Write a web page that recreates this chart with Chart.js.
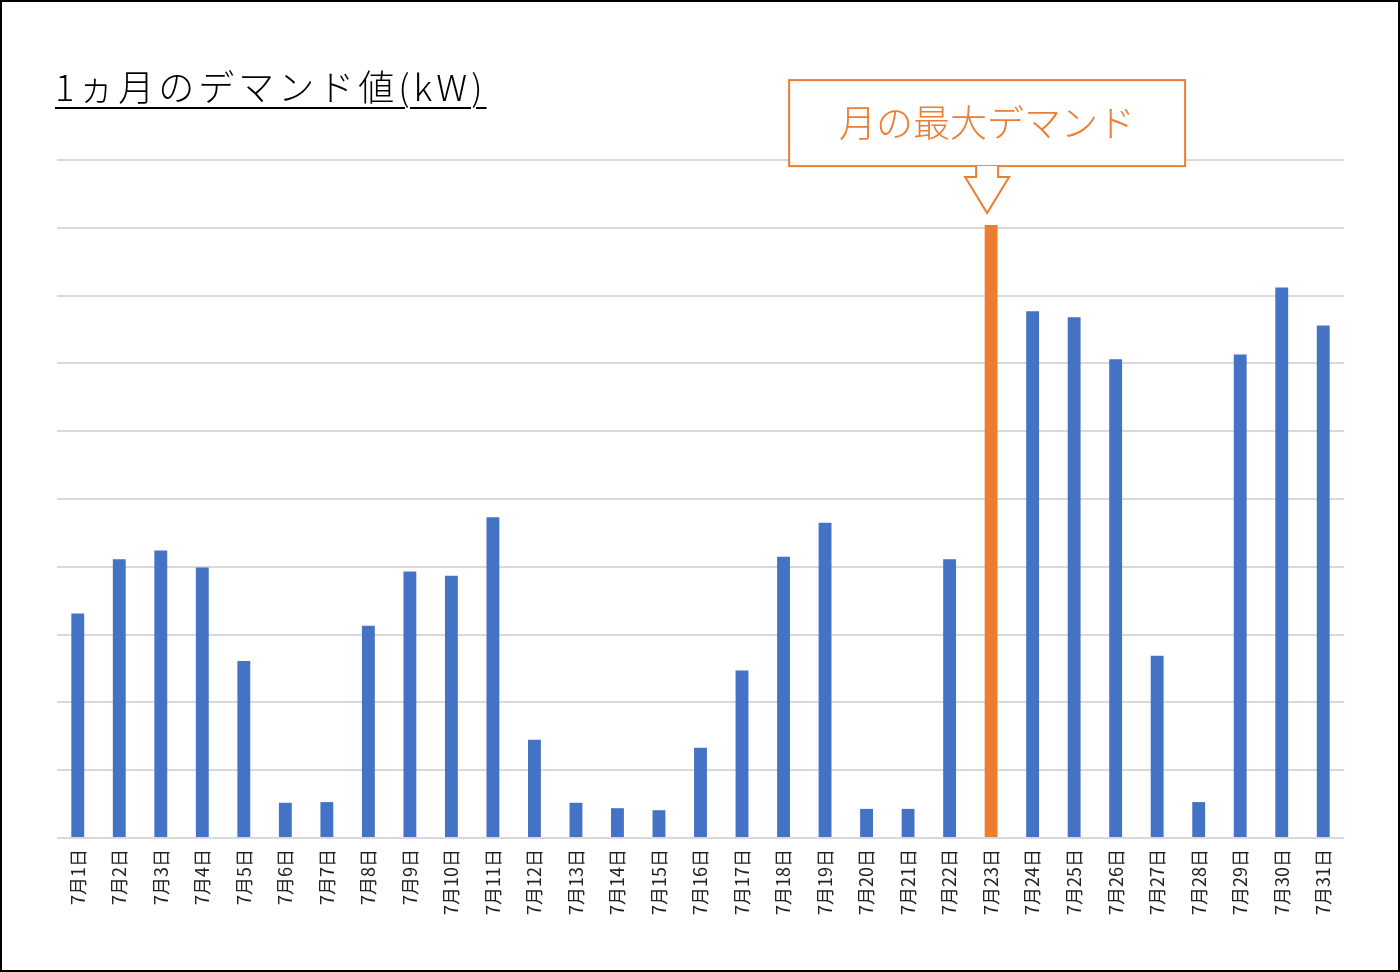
<!DOCTYPE html>
<html lang="ja">
<head>
    <meta charset="UTF-8">
    <title>1ヵ月のデマンド値</title>
    <style>
        body { margin: 0; background: #fff; }
        #wrap { position: relative; width: 1400px; height: 972px; }
        #frame { position: absolute; left: 0; top: 0; width: 1400px; height: 972px; box-sizing: border-box; border: 2px solid #000; pointer-events: none; }
        #title { position: absolute; left: 55px; top: 63px; font-family: "Noto Sans CJK JP", sans-serif; font-weight: 300; font-size: 36px; line-height: 44px; letter-spacing: 4px; color: #000; text-decoration: underline; text-decoration-thickness: 2px; text-underline-offset: 6px; white-space: nowrap; }
    </style>
</head>
<body>

<div id="wrap">
    <canvas id="demandChart" width="1400" height="972"></canvas>
    <div id="title">1ヵ月のデマンド値(kW)</div>
    <div id="frame"></div>
</div>

<script src="https://cdn.jsdelivr.net/npm/chart.js"></script>
<script>
    // 日付ラベル
    const days = [];
    for (let d = 1; d <= 31; d++) days.push('7月' + d + '日');

    // 各日のデマンド値
    const demand = [33.1, 41.1, 42.4, 39.9, 26.1, 5.2, 5.3, 31.3, 39.3, 38.7,
                    47.3, 14.5, 5.2, 4.4, 4.1, 13.3, 24.7, 41.5, 46.5, 4.3,
                    4.3, 41.1, 90.4, 77.7, 76.8, 70.6, 26.9, 5.3, 71.3, 81.2, 75.6];

    const yMax = 100;
    const yStep = 10;
    const calloutText = '月の最大デマンド';

    const maxIndex = demand.indexOf(Math.max(...demand));
    const barColors = demand.map((v, i) => i === maxIndex ? '#ED7D31' : '#4472C4');

    // 最大値の吹き出し
    const calloutPlugin = {
        id: 'callout',
        afterDatasetsDraw(chart) {
            const ctx = chart.ctx;
            const xs = chart.scales.x, ys = chart.scales.y;
            const cx = xs.getPixelForValue(maxIndex) - 4;
            const tip = ys.getPixelForValue(demand[maxIndex]) - 12;
            const headTop = tip - 36, boxBottom = tip - 47, boxTop = boxBottom - 86;
            const boxW = 396;
            ctx.save();
            ctx.strokeStyle = '#ED7D31';
            ctx.lineWidth = 2;
            ctx.fillStyle = '#fff';
            ctx.fillRect(cx - boxW / 2, boxTop, boxW, boxBottom - boxTop);
            ctx.strokeRect(cx - boxW / 2, boxTop, boxW, boxBottom - boxTop);
            // 白抜き矢印
            ctx.beginPath();
            ctx.moveTo(cx - 11, boxBottom);
            ctx.lineTo(cx - 11, headTop);
            ctx.lineTo(cx - 22, headTop);
            ctx.lineTo(cx, tip);
            ctx.lineTo(cx + 22, headTop);
            ctx.lineTo(cx + 11, headTop);
            ctx.lineTo(cx + 11, boxBottom);
            ctx.fill();
            ctx.stroke();
            ctx.fillStyle = '#ED7D31';
            ctx.font = '300 37px "Noto Sans CJK JP", sans-serif';
            ctx.textAlign = 'center';
            ctx.textBaseline = 'middle';
            ctx.fillText(calloutText, cx, (boxTop + boxBottom) / 2);
            ctx.restore();
        }
    };

    new Chart(document.getElementById('demandChart'), {
        type: 'bar',
        data: {
            labels: days,
            datasets: [{
                data: demand,
                backgroundColor: barColors,
                barPercentage: 0.31,
                categoryPercentage: 1.0
            }]
        },
        options: {
            responsive: false,
            animation: false,
            layout: { padding: { left: 57, right: 56, top: 160, bottom: 54 } },
            plugins: { legend: { display: false }, tooltip: { enabled: false } },
            scales: {
                x: {
                    grid: { display: false },
                    border: { display: false },
                    ticks: {
                        maxRotation: 90, minRotation: 90, autoSkip: false, padding: 3,
                        color: '#222',
                        font: { family: '"Noto Sans CJK JP", sans-serif', size: 18 }
                    }
                },
                y: {
                    min: 0, max: yMax,
                    grid: { color: '#d9d9d9', lineWidth: 2, drawTicks: false },
                    border: { display: false },
                    ticks: { display: false, stepSize: yStep }
                }
            }
        },
        plugins: [calloutPlugin]
    });
</script>

</body>
</html>
